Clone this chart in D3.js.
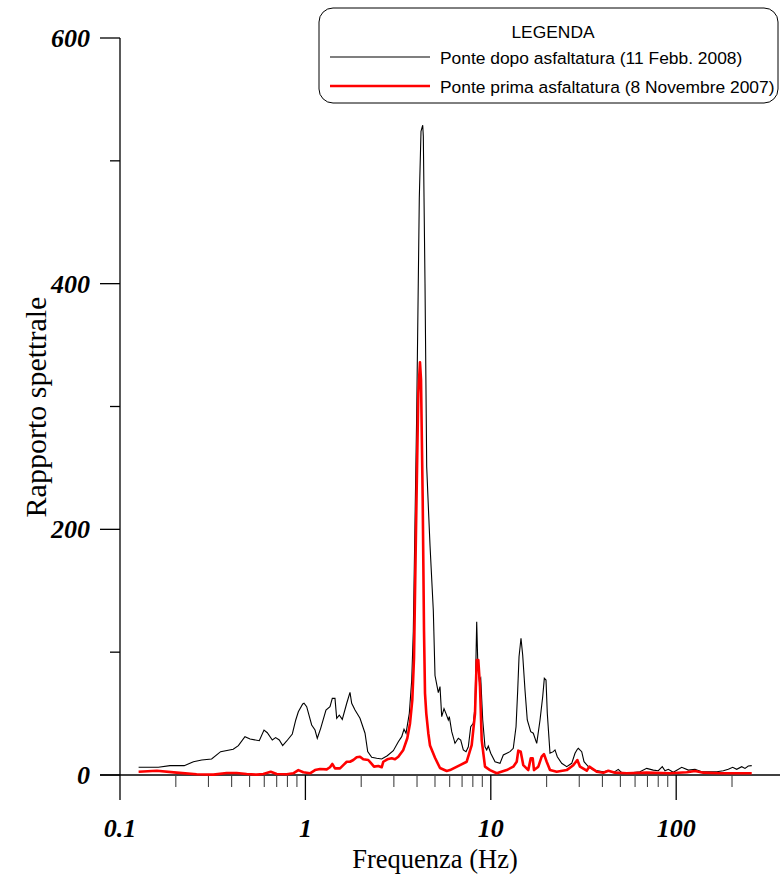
<!DOCTYPE html>
<html>
<head>
<meta charset="utf-8">
<script src="https://cdn.jsdelivr.net/npm/d3@7"></script>
<style>
  body { margin: 0; background: #fff; }
  .tick-label { font-family: "Liberation Serif", serif; font-weight: bold; font-style: italic; font-size: 26px; }
  .axis-title { font-family: "Liberation Serif", serif; }
  .legend-text { font-family: "Liberation Sans", Arial, sans-serif; font-size: 17.4px; }
</style>
</head>
<body>
<script>
const WIDTH = 780;
const HEIGHT = 880;

// Ponte dopo asfaltatura (11 Febb. 2008)
var dopoFreq = [0.126, 0.161, 0.186, 0.222, 0.249, 0.276, 0.312, 0.349, 0.408, 0.435,
  0.472, 0.503, 0.564, 0.598, 0.623, 0.663, 0.691, 0.723, 0.754, 0.793,
  0.850, 0.887, 0.916, 0.967, 0.983, 1.016, 1.081, 1.127, 1.159, 1.209,
  1.291, 1.357, 1.397, 1.444, 1.475, 1.523, 1.581, 1.671, 1.740, 1.777,
  1.852, 1.970, 2.097, 2.168, 2.278, 2.424, 2.579, 2.765, 2.980, 3.171,
  3.307, 3.403, 3.489, 3.635, 3.745, 3.819, 3.984, 4.115, 4.203, 4.293,
  4.325, 4.417, 4.511, 4.602, 4.700, 4.897, 5.001, 5.211, 5.321, 5.435,
  5.593, 5.734, 5.900, 5.974, 6.155, 6.412, 6.681, 6.883, 7.109, 7.351,
  7.564, 7.793, 8.048, 8.219, 8.394, 8.499, 8.670, 8.823, 9.045, 9.305,
  9.504, 9.694, 9.99, 10.54, 11.21, 11.68, 12.69, 13.22, 13.68, 13.97,
  14.20, 14.55, 14.86, 15.29, 15.73, 16.42, 16.95, 17.69, 18.43, 19.05,
  19.44, 19.85, 20.17, 20.86, 21.73, 22.20, 22.84, 24.12, 25.67, 27.32,
  28.46, 29.29, 29.65, 30.93, 31.83, 33.57, 35.72, 40.45, 43.03, 45.79,
  48.72, 50.82, 58.69, 63.77, 69.33, 75.24, 80.09, 84.14, 87.01, 90.65,
  96.45, 107.1, 116.3, 126.3, 137.3, 149.0, 165.4, 179.5, 191.0, 201.7,
  212.0, 225.6, 235.0, 244.8, 255.5];
var dopoVal = [6.3, 6.3, 7.6, 7.6, 10.8, 12.2, 13, 19, 21, 23.9,
  31.2, 29.3, 27.9, 36.6, 34.4, 28.5, 30.4, 28.5, 23.9, 27.7,
  33.4, 44.8, 51.5, 57.8, 58.4, 55.6, 40.7, 36.6, 29.9, 38,
  52.9, 55.6, 62.4, 62.4, 46.2, 48.8, 45.3, 58.4, 67.3, 58.4,
  52.9, 46.2, 34, 19, 14.4, 13.6, 13, 15.7, 19.8, 27.1,
  31.2, 37.2, 34, 50.2, 77.3, 116.7, 294, 470, 524, 529,
  520, 400, 251, 219, 187, 134, 81, 67, 72, 47.5,
  54, 50, 44.8, 47.5, 35.3, 25.8, 29.9, 28.5, 20.4, 19,
  23, 39.3, 42, 55.6, 124.8, 93.6, 77.3, 79, 44.8, 23,
  20.4, 23.6, 17.7, 10.8, 9.5, 16.3, 19, 21.7, 39.3, 69.2,
  96.3, 111.3, 97.7, 69.2, 44.8, 35.3, 34, 25.8, 44.8, 63.7,
  78.7, 77.3, 50.2, 17.7, 19, 20.4, 14.9, 9.5, 6.8, 9.5,
  17.7, 20.9, 21.7, 19, 10.8, 6.8, 4, 2.7, 3.5, 1.9,
  4.6, 1.9, 1.9, 2.7, 5.4, 4, 3.5, 6.8, 3.5, 4.6,
  2.2, 6.3, 4, 4.6, 2.7, 2.7, 2.7, 3.5, 4.6, 6.3,
  4.6, 6.8, 5.4, 7.3, 7.6];

// Ponte prima asfaltatura (8 Novembre 2007)
var primaFreq = [0.126, 0.158, 0.202, 0.259, 0.319, 0.376, 0.426, 0.482, 0.546, 0.593,
  0.650, 0.700, 0.793, 0.860, 0.916, 0.974, 1.059, 1.127, 1.199, 1.303,
  1.357, 1.397, 1.444, 1.537, 1.601, 1.671, 1.740, 1.813, 1.891, 1.970,
  2.052, 2.184, 2.278, 2.344, 2.474, 2.579, 2.632, 2.765, 2.921, 3.043,
  3.171, 3.373, 3.545, 3.666, 3.772, 3.853, 3.950, 4.064, 4.150, 4.203,
  4.293, 4.363, 4.417, 4.488, 4.602, 4.700, 5.001, 5.321, 5.783, 6.026,
  6.823, 7.413, 7.888, 8.219, 8.394, 8.563, 8.744, 8.931, 9.305, 9.90,
  10.76, 12.18, 13.22, 13.80, 14.07, 14.50, 14.97, 15.93, 16.42, 16.83,
  17.10, 18.04, 18.81, 19.36, 20.02, 20.86, 22.67, 25.67, 27.86, 29.29,
  30.28, 32.91, 33.99, 37.25, 40.45, 43.03, 46.77, 54.08, 69.33, 92.60,
  114.0, 126.3, 140.0, 172.3, 255.5];
var primaVal = [2.7, 3.5, 1.9, 0.6, 0.3, 1.6, 1.6, 0.8, 0.3, 0.8,
  2.7, 0.8, 0.6, 1.4, 4, 2.2, 1.4, 4, 4.9, 4.6,
  6.3, 9, 5.4, 5.4, 8, 10.8, 10.8, 12.2, 14.4, 14.9,
  12.8, 12.2, 9, 6.8, 7.3, 6.3, 10.8, 12.8, 13.6, 12.8,
  14.9, 20.4, 29.9, 42, 61, 95, 200, 311, 336, 322,
  223, 117, 66.5, 50, 34, 24, 14, 5.7, 3.3, 4,
  8, 10.8, 24.4, 50, 93.6, 93.6, 72, 28.5, 6.8, 4,
  1.4, 4, 6.8, 10.8, 19.8, 19, 8, 4, 13.6, 13.6,
  4, 6.8, 14.9, 17, 10.8, 4, 2.7, 4, 8, 12.2,
  6.8, 3.5, 6.8, 2.7, 1.9, 3.5, 1.9, 1.4, 1.9, 1.4,
  2.2, 3.3, 1.9, 1.4, 1.4];

var xMajor = [0.1, 1, 10, 100];
var xMajorLabels = ["0.1", "1", "10", "100"];
var xMinor = [0.2, 0.3, 0.4, 0.5, 0.6, 0.7, 0.8, 0.9, 2, 3, 4, 5, 6, 7, 8, 9,
  20, 30, 40, 50, 60, 70, 80, 90, 200];
var yMajor = [0, 200, 400, 600];
var yMinor = [100, 300, 500];

var legendLabels = ["Ponte dopo asfaltatura (11 Febb. 2008)", "Ponte prima asfaltatura (8 Novembre 2007)"];

var xScale = d3.scaleLog()
  .domain([0.1, 1000])
  .range([120, 861.6]);

var yScale = d3.scaleLinear()
  .domain([0, 600])
  .range([775, 38]);

var svg = d3.select('body')
  .append('svg')
  .attr('width', WIDTH)
  .attr('height', HEIGHT);

// axes
var axes = svg.append('g').attr('stroke', '#000').attr('stroke-width', 1.3);
axes.append('line').attr('x1', 120).attr('x2', 120).attr('y1', yScale(600)).attr('y2', 800);
axes.append('line').attr('x1', 100).attr('x2', 780).attr('y1', yScale(0)).attr('y2', yScale(0));

axes.selectAll('.ymaj').data(yMajor).enter().append('line')
  .attr('x1', 100).attr('x2', 120)
  .attr('y1', function(d){ return yScale(d); })
  .attr('y2', function(d){ return yScale(d); });
axes.selectAll('.ymin').data(yMinor).enter().append('line')
  .attr('x1', 110).attr('x2', 120)
  .attr('y1', function(d){ return yScale(d); })
  .attr('y2', function(d){ return yScale(d); });

axes.selectAll('.xmaj').data(xMajor.slice(1)).enter().append('line')
  .attr('x1', function(d){ return xScale(d); })
  .attr('x2', function(d){ return xScale(d); })
  .attr('y1', yScale(0)).attr('y2', 800);
svg.append('g').attr('stroke', '#444').attr('stroke-width', 1.1)
  .selectAll('line').data(xMinor).enter().append('line')
  .attr('x1', function(d){ return xScale(d); })
  .attr('x2', function(d){ return xScale(d); })
  .attr('y1', yScale(0)).attr('y2', 787);

svg.selectAll('.ylab').data(yMajor).enter().append('text')
  .attr('class', 'tick-label')
  .attr('x', 90)
  .attr('y', function(d){ return yScale(d) + 9; })
  .attr('text-anchor', 'end')
  .text(function(d){ return d; });

svg.selectAll('.xlab').data(xMajor).enter().append('text')
  .attr('class', 'tick-label')
  .attr('x', function(d){ return xScale(d); })
  .attr('y', 837)
  .attr('text-anchor', 'middle')
  .text(function(d, i){ return xMajorLabels[i]; });

svg.append('text')
  .attr('class', 'axis-title')
  .attr('x', 435).attr('y', 868)
  .attr('text-anchor', 'middle')
  .style('font-size', '26.5px')
  .text('Frequenza (Hz)');

svg.append('text')
  .attr('class', 'axis-title')
  .attr('transform', 'translate(46,407) rotate(-90)')
  .attr('text-anchor', 'middle')
  .style('font-size', '30px')
  .text('Rapporto spettrale');

// series
var line = d3.line()
  .x(function(d){ return xScale(d[0]); })
  .y(function(d){ return yScale(d[1]); });

var primaData = d3.zip(primaFreq, primaVal);
var dopoData = d3.zip(dopoFreq, dopoVal);

svg.append('path')
  .attr('d', line(dopoData))
  .attr('fill', 'none')
  .attr('stroke', '#000')
  .attr('stroke-width', 1.1);

svg.append('path')
  .attr('d', line(primaData))
  .attr('fill', 'none')
  .attr('stroke', '#ff0000')
  .attr('stroke-width', 2.6)
  .attr('stroke-linejoin', 'round');

// legend
var legend = svg.append('g');
legend.append('rect')
  .attr('x', 319).attr('y', 8)
  .attr('width', 459).attr('height', 95)
  .attr('rx', 14).attr('ry', 14)
  .attr('fill', '#fff')
  .attr('stroke', '#000')
  .attr('stroke-width', 1);
legend.append('text')
  .attr('class', 'legend-text')
  .attr('x', 553).attr('y', 38)
  .attr('text-anchor', 'middle')
  .text('LEGENDA');

var legendColors = ['#000', '#ff0000'];
var legendWidths = [1.1, 2.6];
var legendY = [57, 86];
legendLabels.forEach(function(lbl, i){
  legend.append('line')
    .attr('x1', 330).attr('x2', 430)
    .attr('y1', legendY[i]).attr('y2', legendY[i])
    .attr('stroke', legendColors[i])
    .attr('stroke-width', legendWidths[i]);
  legend.append('text')
    .attr('class', 'legend-text')
    .attr('x', 440).attr('y', legendY[i] + 7)
    .text(lbl);
});
</script>
</body>
</html>
